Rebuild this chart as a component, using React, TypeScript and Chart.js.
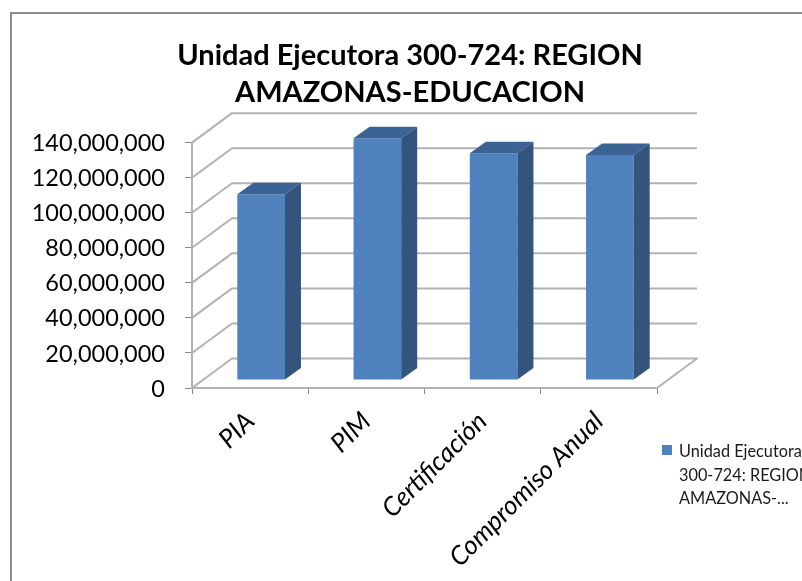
import React, { useEffect, useRef } from "react";
import { Chart, registerables } from "chart.js";

Chart.register(...registerables);

const categories = ["PIA", "PIM", "Certificación", "Compromiso Anual"];
const seriesLabel = "Unidad Ejecutora 300-724: REGION AMAZONAS-...";
const legendLines = ["Unidad Ejecutora", "300-724: REGION", "AMAZONAS-..."];
const values = [106000000, 138000000, 129400000, 128400000];
const titleLines = ["Unidad Ejecutora 300-724: REGION", "AMAZONAS-EDUCACION"];

const FONT = "Lato, Carlito, 'Open Sans', sans-serif";
const WALL_DX = 40;
const WALL_DY = -29.5;
const BAR_OFF_X = 11;
const BAR_OFF_Y = -8;
const BAR_DX = 16;
const BAR_DY = -11.5;
const GRID = "#b2b2b2";

const plugin3d = {
  id: "plugin3d",
  beforeDraw(chart: any) {
    const { ctx } = chart;
    ctx.save();
    ctx.strokeStyle = "#8c8c8c";
    ctx.lineWidth = 2;
    ctx.beginPath();
    ctx.moveTo(11, 700);
    ctx.lineTo(11, 13);
    ctx.lineTo(900, 13);
    ctx.stroke();
    ctx.restore();
  },
  beforeDatasetsDraw(chart: any) {
    const { ctx, chartArea, scales } = chart;
    const { left, right } = chartArea;
    ctx.save();
    ctx.strokeStyle = GRID;
    ctx.lineWidth = 2;
    ctx.lineJoin = "round";
    scales.y.ticks.forEach((t: any) => {
      const y = scales.y.getPixelForValue(t.value);
      ctx.beginPath();
      ctx.moveTo(left, y);
      ctx.lineTo(left + WALL_DX, y + WALL_DY);
      ctx.lineTo(right + WALL_DX, y + WALL_DY);
      if (t.value === 0) ctx.lineTo(right, y);
      ctx.stroke();
    });
    ctx.restore();
    ctx.save();
    ctx.translate(BAR_OFF_X, BAR_OFF_Y);
  },
  afterDatasetsDraw(chart: any) {
    const { ctx } = chart;
    chart.getDatasetMeta(0).data.forEach((el: any) => {
      const { x, y, base, width } = el.getProps(["x", "y", "base", "width"], true);
      const l = x - width / 2;
      const r = x + width / 2;
      ctx.fillStyle = "#3b6494";
      ctx.beginPath();
      ctx.moveTo(l, y);
      ctx.lineTo(l + BAR_DX, y + BAR_DY);
      ctx.lineTo(r + BAR_DX, y + BAR_DY);
      ctx.lineTo(r, y);
      ctx.closePath();
      ctx.fill();
      ctx.fillStyle = "#33547d";
      ctx.beginPath();
      ctx.moveTo(r, y);
      ctx.lineTo(r + BAR_DX, y + BAR_DY);
      ctx.lineTo(r + BAR_DX, base + BAR_DY);
      ctx.lineTo(r, base);
      ctx.closePath();
      ctx.fill();
    });
    ctx.restore();
  },
  afterDraw(chart: any) {
    const { ctx } = chart;
    ctx.save();
    ctx.fillStyle = "#4f81bd";
    ctx.fillRect(662, 445, 10, 10);
    ctx.fillStyle = "#1a1a1a";
    ctx.font = `16.3px ${FONT}`;
    ctx.textBaseline = "middle";
    ctx.textAlign = "left";
    legendLines.forEach((line, i) => ctx.fillText(line, 679, 452 + i * 23.5));
    ctx.restore();
  },
};

export default function App() {
  const ref = useRef<HTMLCanvasElement>(null);
  useEffect(() => {
    const chart = new Chart(ref.current!, {
      type: "bar",
      data: {
        labels: categories,
        datasets: [
          {
            label: seriesLabel,
            data: values,
            backgroundColor: "#4f81bd",
            borderWidth: 0,
            barPercentage: 0.41,
            categoryPercentage: 1,
            clip: false as any,
          },
        ],
      },
      options: {
        responsive: false,
        animation: false,
        layout: { padding: { left: 18, right: 0, top: 0, bottom: 0 } },
        plugins: {
          legend: { display: false },
          tooltip: { enabled: false },
          title: {
            display: true,
            text: titleLines,
            color: "#000",
            font: { family: FONT, size: 29, weight: "bold", lineHeight: 1.27 },
            padding: { top: 37, bottom: 32 },
          },
        },
        scales: {
          x: {
            afterFit: (s: any) => {
              s.height = 193;
            },
            border: { color: GRID, width: 2 },
            grid: { drawOnChartArea: false, drawTicks: true, tickLength: 6, color: "#888" },
            ticks: {
              autoSkip: false,
              minRotation: 45,
              maxRotation: 45,
              color: "#000",
              padding: 12,
              font: { family: FONT, size: 26, style: "italic" },
            },
          },
          y: {
            min: 0,
            max: 140000000,
            afterFit: (s: any) => {
              s.width = 174;
            },
            border: { color: GRID, width: 2 },
            grid: { drawOnChartArea: false, drawTicks: true, tickLength: 7, color: "#888" },
            ticks: {
              stepSize: 20000000,
              color: "#000",
              padding: 20,
              labelOffset: 1,
              font: { family: FONT, size: 23.5 },
              callback: (v: any) => Number(v).toLocaleString("en-US"),
            },
          },
          spacer: {
            axis: "y",
            position: "right",
            afterFit: (s: any) => {
              s.width = 145;
            },
            border: { display: false },
            grid: { display: false },
            ticks: { display: false },
          },
        },
      },
      plugins: [plugin3d],
    } as any);
    return () => chart.destroy();
  }, []);
  return (
    <div style={{ position: "absolute", left: 0, top: 0, width: 802, height: 581, overflow: "hidden", background: "#fff" }}>
      <canvas ref={ref} width={802} height={581} style={{ display: "block" }} />
    </div>
  );
}
